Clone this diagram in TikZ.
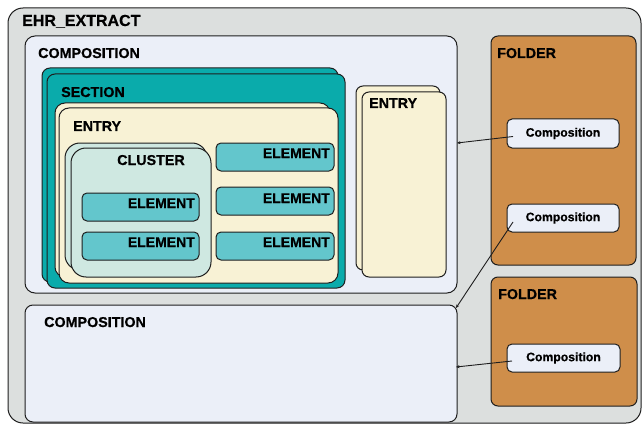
\documentclass[tikz,border=0pt]{standalone}
\usepackage{fontspec}
\setmainfont{Liberation Sans}
\newfontfamily\heavy{Liberation Sans Bold}[FakeBold=0.6]
\usetikzlibrary{arrows.meta}
\definecolor{linec}{HTML}{1E1E1E}
\definecolor{grayfill}{HTML}{DCDFDE}
\definecolor{compfill}{HTML}{EBEFF8}
\definecolor{tealfill}{HTML}{0AABAB}
\definecolor{creamfill}{HTML}{F8F2D5}
\definecolor{clusterfill}{HTML}{CFE8E1}
\definecolor{elemfill}{HTML}{63C6CC}
\definecolor{folderfill}{HTML}{CF8E4A}
\tikzset{
  box/.style={draw=linec, line width=1pt, inner sep=0pt, outer sep=0pt, anchor=north west},
  bigl/.style={inner sep=0pt, anchor=base west, font=\fontsize{16}{18}\selectfont\heavy},
  lbl/.style={inner sep=0pt, anchor=base west, font=\fontsize{14.3}{16}\selectfont\heavy},
  ellbl/.style={inner sep=0pt, anchor=base east, font=\fontsize{14}{16}\selectfont\heavy},
  smallcomp/.style={box, fill=compfill, rounded corners=5pt, font=\fontsize{12.2}{14}\selectfont\heavy},
  elem/.style={box, fill=elemfill, rounded corners=5pt, minimum width=117pt, minimum height=28pt},
  arr/.style={draw=linec, line width=0.9pt, -{Stealth[length=3.5pt,width=3pt]}}
}
\begin{document}
\begin{tikzpicture}[x=1pt,y=-1pt]
\useasboundingbox (0,0) rectangle (642,425);
% outer
\node[box, fill=grayfill, rounded corners=15pt, minimum width=633pt, minimum height=415pt] (ehr) at (8,8) {};
\node[bigl] (lehr) at (22,26) {EHR\_EXTRACT};
% top composition
\node[box, fill=compfill, rounded corners=10pt, minimum width=432pt, minimum height=257pt] (comp1) at (25,36) {};
\node[lbl] (lcomp1) at (38,58) {COMPOSITION};
% section stack
\node[box, fill=tealfill, rounded corners=8pt, minimum width=296pt, minimum height=214pt] (secb) at (42,68) {};
\node[box, fill=tealfill, rounded corners=8pt, minimum width=298pt, minimum height=214pt] (sec) at (47,74) {};
\node[lbl] (lsec) at (61,97) {SECTION};
% entry stack
\node[box, fill=creamfill, rounded corners=10pt, minimum width=275pt, minimum height=174pt] (entb) at (55,103) {};
\node[box, fill=creamfill, rounded corners=10pt, minimum width=279pt, minimum height=175pt] (ent) at (59,108) {};
\node[lbl] (lent) at (73,131) {ENTRY};
% cluster stack
\node[box, fill=clusterfill, rounded corners=15pt, minimum width=142pt, minimum height=127pt] (clb) at (65,143) {};
\node[box, fill=clusterfill, rounded corners=15pt, minimum width=140pt, minimum height=129pt] (cl) at (71,148) {};
\node[lbl, anchor=base] (lcl) at (151,165) {CLUSTER};
% elements in cluster
\node[elem] (e1) at (82,193) {};
\node[ellbl] (le1) at (195,208) {ELEMENT};
\node[elem] (e2) at (82,232) {};
\node[ellbl] (le2) at (195,247) {ELEMENT};
% elements on the right
\node[elem, minimum width=118pt] (e3) at (216,143) {};
\node[ellbl] (le3) at (330,158) {ELEMENT};
\node[elem, minimum width=118pt] (e4) at (216,187) {};
\node[ellbl] (le4) at (330,203) {ELEMENT};
\node[elem, minimum width=118pt] (e5) at (216,232) {};
\node[ellbl] (le5) at (330,247) {ELEMENT};
% right entry stack
\node[box, fill=creamfill, rounded corners=7pt, minimum width=84pt, minimum height=184pt] (rentb) at (356,86) {};
\node[box, fill=creamfill, rounded corners=7pt, minimum width=84pt, minimum height=185pt] (rent) at (362,92) {};
\node[lbl] (lrent) at (369,108) {ENTRY};
% bottom composition
\node[box, fill=compfill, rounded corners=8pt, minimum width=432pt, minimum height=117pt] (comp2) at (25,305) {};
\node[lbl] (lcomp2) at (44,327) {COMPOSITION};
% folders
\node[box, fill=folderfill, rounded corners=7pt, minimum width=145pt, minimum height=229pt] (f1) at (491,36) {};
\node[lbl] (lf1) at (497,58) {FOLDER};
\node[smallcomp, minimum width=112pt, minimum height=29pt] (c1) at (507,119) {Composition};
\node[smallcomp, minimum width=112pt, minimum height=28pt] (c2) at (507,204) {Composition};
\node[box, fill=folderfill, rounded corners=7pt, minimum width=146pt, minimum height=129pt] (f2) at (491,277) {};
\node[lbl] (lf2) at (498,299) {FOLDER};
\node[smallcomp, minimum width=113pt, minimum height=28pt] (c3) at (507,344) {Composition};
% connector end points
\coordinate (t1) at (457,143);
\coordinate (t2) at (456,308);
\coordinate (t3) at (456,367);
\draw[arr] ([xshift=6pt,yshift=-3pt]c1.west) -- (t1);
\draw[arr] ([xshift=6pt,yshift=-4pt]c2.west) -- (t2);
\draw[arr] ([xshift=5pt,yshift=-3pt]c3.west) -- (t3);
\end{tikzpicture}
\end{document}
